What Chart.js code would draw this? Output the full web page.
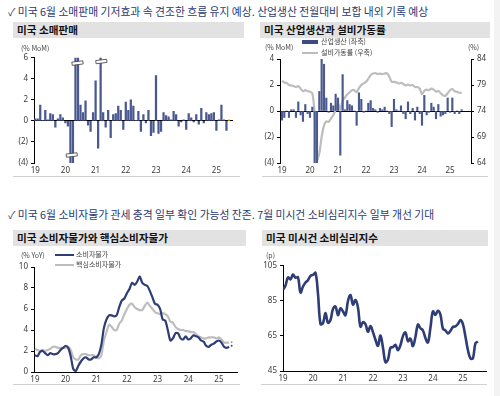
<!DOCTYPE html>
<html>
<head>
<meta charset="utf-8">
<script src="https://cdn.jsdelivr.net/npm/chart.js@4"></script>
<style>
  body { margin: 0; width: 500px; height: 396px; background: #fff; position: relative; overflow: hidden;
         font-family: "Noto Sans CJK KR", "Noto Sans", sans-serif; }
  .abs { position: absolute; white-space: nowrap; }
  .head { font-size: 10.8px; color: #2b3a72; line-height: 14px; }
  .bar { background: #e2e2e2; font-weight: bold; font-size: 10.6px; line-height: 16px; padding-left: 4px;
         box-sizing: border-box; color: #111; }
  .unit { font-size: 7px; color: #444; line-height: 9px; }
  .rule { height: 1px; background: #d0d0d0; }
  canvas { position: absolute; }
</style>
</head>
<body>
<div class="abs" style="left:494px;top:0;width:6px;height:396px;background:#f3f3f3"></div>

<div class="abs head" style="left:8px;top:4px">✓ 미국 6월 소매판매 기저효과 속 견조한 흐름 유지 예상. 산업생산 전월대비 보합 내외 기록 예상</div>
<div class="abs bar" style="left:13px;top:22px;width:231px;height:16px">미국 소매판매</div>
<div class="abs bar" style="left:260px;top:22px;width:230px;height:16px">미국 산업생산과 설비가동률</div>

<div class="abs head" style="left:8px;top:207px">✓ 미국 6월 소비자물가 관세 충격 일부 확인 가능성 잔존. 7월 미시건 소비심리지수 일부 개선 기대</div>
<div class="abs bar" style="left:13px;top:230px;width:233px;height:16px">미국 소비자물가와 핵심소비자물가</div>
<div class="abs bar" style="left:262px;top:230px;width:226px;height:16px">미국 미시건 소비심리지수</div>

<canvas id="retailChart" width="245" height="128" style="left:0;top:50px"></canvas>
<canvas id="ipChart" width="250" height="128" style="left:250px;top:50px"></canvas>
<canvas id="cpiChart" width="245" height="128" style="left:0;top:258px"></canvas>
<canvas id="umichChart" width="250" height="128" style="left:250px;top:258px"></canvas>

<div class="abs unit" style="left:21px;top:44px">(% MoM)</div>
<div class="abs unit" style="left:265px;top:43px">(% MoM)</div>
<div class="abs unit" style="left:468px;top:43px">(%)</div>
<div class="abs" style="left:302px;top:40px;width:16px;height:4px;background:#3d4b82"></div>
<div class="abs unit" style="left:321px;top:37px">산업생산 (좌축)</div>
<div class="abs" style="left:302px;top:52px;width:16px;height:2px;background:#bdbdbd"></div>
<div class="abs unit" style="left:321px;top:48px">설비가동률 (우축)</div>

<div class="abs unit" style="left:21px;top:251px">(% YoY)</div>
<div class="abs" style="left:55px;top:254px;width:19px;height:2px;background:#2e3d75"></div>
<div class="abs unit" style="left:76px;top:250px">소비자물가</div>
<div class="abs" style="left:55px;top:264px;width:19px;height:2px;background:#bdbdbd"></div>
<div class="abs unit" style="left:76px;top:260px">핵심소비자물가</div>
<div class="abs unit" style="left:266px;top:251px">(p)</div>

<div class="abs rule" style="left:13px;top:176px;width:227px"></div>
<div class="abs rule" style="left:262px;top:176px;width:226px"></div>
<div class="abs rule" style="left:13px;top:384px;width:227px"></div>
<div class="abs rule" style="left:261px;top:384px;width:226px"></div>

<script>
// year ticks shared by all four panels
const yearTicks = [2019, 2020, 2021, 2022, 2023, 2024, 2025];

// US retail sales, % MoM, Jan 2019 - Jun 2025 (last one = forecast)
const retailSales = [
  0.2, 0.2, 1.5, 0.05, 1.0, 0.1, 0.7, 0.6, -0.6, 0.2, 0.6, 0.3,
  -0.2, -0.5, -8.2, -14.7, 18.2, 8.4, 1.5, 0.8, 1.9, -0.4, -1.0, 0.8,
  3.8, -2.6, 10.7, 0.8, -0.6, 1.0, -1.6, 0.6, 0.7, 1.4, 1.0, -0.8,
  1.8, 1.0, 2.0, 1.4, 0.05, 0.9, -1.0, 0.6, -0.2, 1.0, -1.4, -1.1,
  4.3, -1.2, -1.0, 0.8, 0.5, 0.4, 0.1, 0.9, 0.6, -0.5, -0.1, 0.1,
  -0.8, 0.7, 0.3, -0.1, 0.6, -0.3, 1.2, -0.2, 0.8, 0.6, 0.7, 0.8,
  -0.9, 0.1, 1.5, 0.1, -0.9, 0.1
];
// axis break marks on the clipped bars [x, y]
const retailBreaks = [[2020.21, -3.24], [2020.4, 5.5], [2021.19, 5.65]];

// US industrial production, % MoM, Jan 2019 - Jun 2025
const ipMoM = [
  -0.7, -0.5, 0.0, -0.5, 0.1, 0.1, -0.5, 0.7, -0.3, -0.8, 0.5, -0.2,
  -0.5, 0.3, -4.5, -12.7, 1.5, 5.4, 3.6, 1.0, -0.1, 0.6, 0.4, 1.3,
  1.0, -3.4, 2.8, 0.1, 0.8, 0.5, 0.4, 0.0, -1.1, 1.4, 0.9, -0.1,
  0.0, 0.6, 0.8, 0.2, 0.1, -0.1, 0.2, 0.1, 0.3, 0.0, -0.2, -1.2,
  0.9, 0.1, 0.0, 0.4, -0.2, -0.6, 0.7, -0.2, 0.2, -0.7, 0.3, -0.2,
  -1.1, 1.2, -0.3, -0.1, 0.6, 0.3, -0.6, 0.5, -0.4, -0.3, -0.2, 1.0,
  -0.1, 1.0, -0.2, 0.0, -0.2, 0.1
];
// capacity utilization, %, Jan 2019 - Jun 2025
const capUtil = [
  79.8, 79.5, 79.4, 79.0, 78.9, 78.8, 78.6, 78.8, 78.3, 77.8, 78.0, 77.8,
  77.7, 77.4, 73.5, 64.6, 65.8, 69.0, 71.2, 72.0, 71.9, 72.6, 73.2, 74.2,
  75.6, 74.2, 76.0, 76.6, 77.2, 77.6, 78.0, 78.0, 77.6, 78.4, 79.0, 79.3,
  79.6, 80.2, 80.9, 81.2, 81.3, 81.1, 81.2, 81.1, 81.2, 81.3, 80.6, 79.6,
  79.6, 79.5, 79.3, 79.4, 79.2, 78.9, 79.1, 78.9, 79.0, 78.6, 78.6, 78.3,
  77.2, 77.9, 78.1, 78.0, 78.3, 78.1, 77.7, 77.9, 77.4, 77.0, 76.9, 77.4,
  78.0, 78.2, 77.8, 77.7, 77.5, 77.5
];

// CPI and core CPI, % YoY, Jan 2019 - May 2025
const cpiYoY = [
  1.6, 1.5, 1.9, 2.0, 1.8, 1.6, 1.8, 1.7, 1.7, 1.8, 2.1, 2.3,
  2.5, 2.3, 1.5, 0.3, 0.1, 0.6, 1.0, 1.3, 1.4, 1.2, 1.2, 1.4,
  1.4, 1.7, 2.6, 4.2, 5.0, 5.4, 5.4, 5.3, 5.4, 6.2, 6.8, 7.0,
  7.5, 7.9, 8.5, 8.3, 8.6, 9.1, 8.5, 8.3, 8.2, 7.7, 7.1, 6.5,
  6.4, 6.0, 5.0, 4.9, 4.0, 3.0, 3.2, 3.7, 3.7, 3.2, 3.1, 3.4,
  3.1, 3.2, 3.5, 3.4, 3.3, 3.0, 2.9, 2.5, 2.4, 2.6, 2.7, 2.9,
  3.0, 2.8, 2.4, 2.3, 2.4
];
const coreYoY = [
  2.2, 2.1, 2.0, 2.1, 2.0, 2.1, 2.2, 2.4, 2.4, 2.3, 2.3, 2.3,
  2.3, 2.4, 2.1, 1.4, 1.2, 1.2, 1.6, 1.7, 1.7, 1.6, 1.6, 1.6,
  1.4, 1.3, 1.6, 3.0, 3.8, 4.5, 4.3, 4.0, 4.0, 4.6, 4.9, 5.5,
  6.0, 6.4, 6.5, 6.2, 6.0, 5.9, 5.9, 6.3, 6.6, 6.3, 6.0, 5.7,
  5.6, 5.5, 5.6, 5.5, 5.3, 4.8, 4.7, 4.3, 4.1, 4.0, 4.0, 3.9,
  3.9, 3.8, 3.8, 3.6, 3.4, 3.3, 3.2, 3.2, 3.3, 3.3, 3.3, 3.2,
  3.3, 3.1, 2.8, 2.8, 2.8
];
// June 2025 forecast dots
const cpiForecast = [2.5];
const coreForecast = [2.85];

// Michigan consumer sentiment, Jan 2019 - Jul 2025
const umich = [
  91.2, 93.8, 98.4, 97.2, 100.0, 98.2, 98.4, 89.8, 93.2, 95.5, 96.8, 99.3,
  99.8, 101.0, 89.1, 71.8, 72.3, 78.1, 72.5, 74.1, 80.4, 81.8, 76.9, 80.7,
  79.0, 76.8, 84.9, 88.3, 82.9, 85.5, 81.2, 70.3, 72.8, 71.7, 67.4, 70.6,
  67.2, 62.8, 59.4, 65.2, 58.4, 50.0, 51.5, 58.2, 58.6, 59.9, 56.8, 59.7,
  64.9, 67.0, 62.0, 63.5, 59.2, 64.4, 71.5, 69.4, 68.1, 63.8, 61.3, 69.7,
  79.0, 76.9, 79.4, 77.2, 69.1, 68.2, 66.4, 67.9, 70.1, 70.5, 71.8, 74.0,
  71.7, 64.7, 57.0, 52.2, 52.2, 60.7, 61.8
];

const NAVY = '#2e3d75';
const BARBLUE = '#4a598f';
const GREY = '#bdbdbd';
const TICKFONT = { family: "'Noto Sans', sans-serif", size: 8 };
const TICKCOLOR = '#3a3a3a';

Chart.defaults.animation = false;
Chart.defaults.responsive = false;
Chart.defaults.devicePixelRatio = 1;
Chart.defaults.plugins.legend.display = false;
Chart.defaults.plugins.tooltip.enabled = false;

// month index -> position on a linear year axis
const monthPos = i => 2019 + i / 12;
const toPoints = (arr, start = 0) => arr.map((v, i) => ({ x: monthPos(i + start), y: v }));
const paren = v => (v < 0 ? '(' + (-v) + ')' : String(v));

// x axis with only the January ticks labelled as 'yy'
function yearAxis(min, max, height, border) {
  return {
    type: 'linear', min: min, max: max, offset: false,
    afterBuildTicks: s => { s.ticks = yearTicks.map(v => ({ value: v })); },
    afterFit: s => { s.height = height; },
    ticks: { font: TICKFONT, color: TICKCOLOR, padding: 3, maxRotation: 0, autoSkip: false,
             callback: v => String(v).slice(2) },
    grid: { display: false, drawTicks: false },
    border: { display: border, color: '#000', width: 1 }
  };
}

function valueAxis(min, max, step, width, opts) {
  opts = opts || {};
  return {
    position: opts.position || 'left', min: min, max: max,
    afterFit: s => { s.width = width; },
    ticks: { stepSize: step, font: TICKFONT, color: TICKCOLOR, padding: 3,
             callback: opts.callback || (v => v) },
    grid: {
      drawOnChartArea: !!opts.zeroLine,
      color: c => (opts.zeroLine && c.tick && c.tick.value === 0 ? '#000' : 'rgba(0,0,0,0)'),
      tickColor: '#000', tickLength: 3, lineWidth: 1
    },
    border: { color: '#000', width: 1 }
  };
}

// little white "break" bars drawn over the clipped columns
const breakMarks = {
  id: 'breakMarks',
  afterDatasetsDraw(chart) {
    const ctx = chart.ctx;
    ctx.save();
    retailBreaks.forEach(([xv, yv]) => {
      const px = chart.scales.x.getPixelForValue(xv);
      const py = chart.scales.y.getPixelForValue(yv);
      ctx.translate(px, py);
      ctx.rotate(-0.12);
      ctx.fillStyle = '#fff';
      ctx.strokeStyle = '#444';
      ctx.lineWidth = 0.8;
      ctx.fillRect(-5.5, -1.6, 11, 3.2);
      ctx.strokeRect(-5.5, -1.6, 11, 3.2);
      ctx.setTransform(1, 0, 0, 1, 0, 0);
    });
    ctx.restore();
  }
};

// retail sales
new Chart(document.getElementById('retailChart'), {
  type: 'bar',
  data: {
    datasets: [{
      data: toPoints(retailSales),
      backgroundColor: retailSales.map((v, i) => (i === retailSales.length - 1 ? '#e8b000' : BARBLUE)),
      barThickness: 1.6,
      clip: 0
    }]
  },
  options: {
    layout: { padding: { top: 7, right: 12, left: 0, bottom: 0 } },
    scales: {
      x: yearAxis(2018.96, 2025.55, 15, false),
      y: valueAxis(-4, 6, 2, 34, { zeroLine: true, callback: paren })
    }
  },
  plugins: [breakMarks]
});

// industrial production + capacity utilization
new Chart(document.getElementById('ipChart'), {
  type: 'bar',
  data: {
    datasets: [
      { type: 'bar', data: toPoints(ipMoM), backgroundColor: BARBLUE, barThickness: 1.5, yAxisID: 'y', order: 0, clip: 0 },
      { type: 'line', data: toPoints(capUtil), borderColor: GREY, borderWidth: 2.2, pointRadius: 0,
        tension: 0.2, yAxisID: 'y1', order: 1 }
    ]
  },
  options: {
    layout: { padding: { top: 9, right: 0, left: 0, bottom: 0 } },
    scales: {
      x: yearAxis(2018.93, 2025.75, 15, false),
      y: valueAxis(-4, 4, 2, 30, { zeroLine: true, callback: paren }),
      y1: valueAxis(64, 84, 5, 29, { position: 'right' })
    }
  }
});

// CPI and core CPI
new Chart(document.getElementById('cpiChart'), {
  type: 'line',
  data: {
    datasets: [
      { data: toPoints(cpiYoY), borderColor: NAVY, borderWidth: 2.2, pointRadius: 0, tension: 0.25, order: 0 },
      { data: toPoints(coreYoY), borderColor: GREY, borderWidth: 2.2, pointRadius: 0, tension: 0.25, order: 1 },
      { data: toPoints(cpiForecast, cpiYoY.length), showLine: false, pointRadius: 0.9,
        pointBackgroundColor: NAVY, pointBorderWidth: 0 },
      { data: toPoints(coreForecast, coreYoY.length), showLine: false, pointRadius: 0.9,
        pointBackgroundColor: '#888', pointBorderWidth: 0 }
    ]
  },
  options: {
    layout: { padding: { top: 9, right: 8, left: 0, bottom: 0 } },
    scales: {
      x: yearAxis(2018.97, 2025.59, 14, true),
      y: valueAxis(0, 10, 2, 34)
    }
  }
});

// Michigan sentiment
new Chart(document.getElementById('umichChart'), {
  type: 'line',
  data: {
    datasets: [
      { data: toPoints(umich), borderColor: NAVY, borderWidth: 2.6, pointRadius: 0, tension: 0.4 }
    ]
  },
  options: {
    layout: { padding: { top: 7, right: 14, left: 0, bottom: 0 } },
    scales: {
      x: yearAxis(2019, 2025.77, 15, true),
      y: valueAxis(45, 105, 20, 33)
    }
  }
});
</script>
</body>
</html>
